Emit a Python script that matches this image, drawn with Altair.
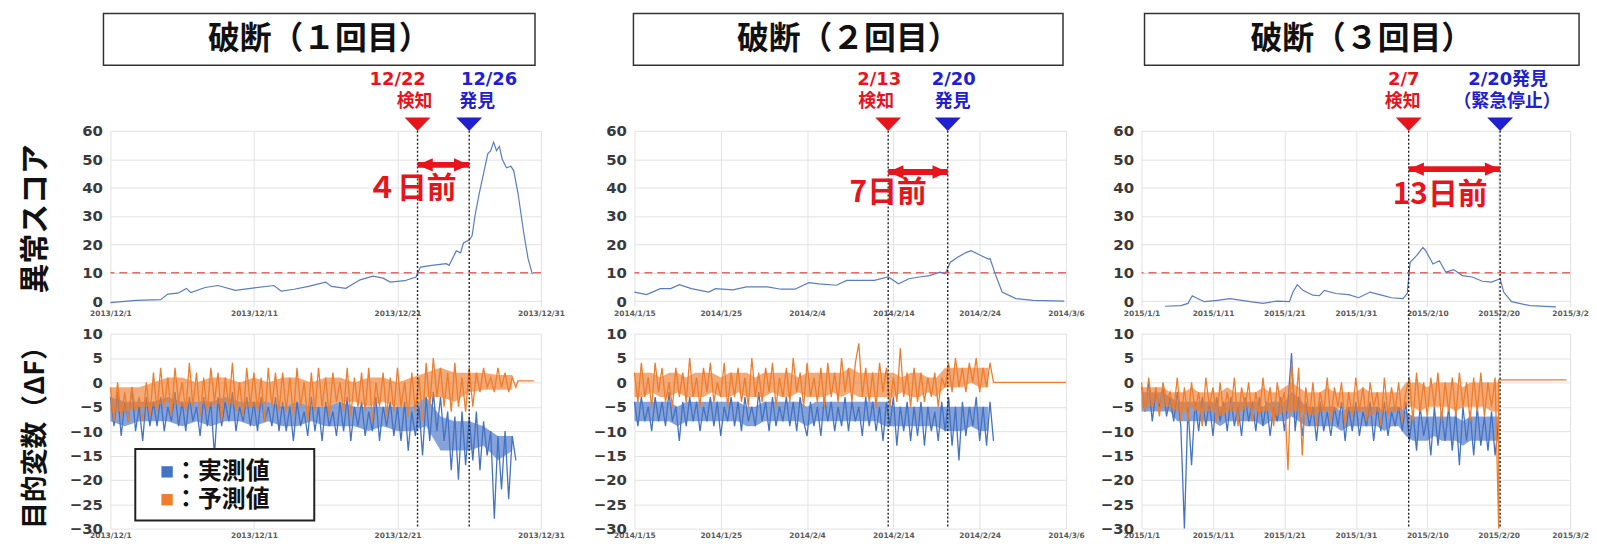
import altair as alt
import pandas as pd

# ---------------- styling ----------------
RED = "#e8141c"
BLUE = "#2020d0"
ACT_COLOR = "#4472c4"
PRED_COLOR = "#ee7d2e"
SCORE_COLOR = "#5a7cc0"
THRESH_COLOR = "#e36a6a"
JP = "Noto Sans CJK JP"
LAT = "DejaVu Sans"
MIX = "DejaVu Sans, Noto Sans CJK JP"
BAND_OPACITY = 0.65

H1, H2, GAP = 177, 196, 27
PANEL_WIDTHS = [433, 434, 431]
SPACERS = [94, 76]
BOX_X = [(-7, 427), (-1, 431), (3, 440)]
LABEL_DX1 = [[-20, 20], [-9, 6], [-5, 8]]
LABEL_DX2 = [[-3, 8], [-12, 5], [-6, 7]]

SCORE_DOMAIN = [-2, 60]
SCORE_TICKS = [0, 10, 20, 30, 40, 50, 60]
DF_DOMAIN = [-30, 10]
DF_TICKS = [-30, -25, -20, -15, -10, -5, 0, 5, 10]
THRESHOLD = [10]

Y_TITLE_TOP = "異常スコア"
Y_TITLE_BOTTOM = "目的変数（ΔF）"
LEGEND_LABELS = ["：実測値", "：予測値"]
EVENT_COLORS = [RED, BLUE]

# ---------------- panel 1 ----------------
P1_TITLE = "破断（１回目）"
P1_XMAX = 30
P1_TICKS = [0, 10, 20, 30]
P1_TICK_LABELS = ["2013/12/1", "2013/12/11", "2013/12/21", "2013/12/31"]
P1_EVENT_DAY = [21.4, 25.0]
P1_EVENT_LINE1 = ["12/22", "12/26"]
P1_EVENT_LINE2 = ["検知", "発見"]
P1_GAP_TEXT = "４日前"
P1_GAP_TEXT_DAY = 21.0
P1_GAP_TEXT_Y = 39.5
P1_ARROW_Y = 48
P1_SCORE_DAY = [0, 1.8, 3.5, 4, 4.7, 5.3, 5.6, 6.6, 7.5, 8.7, 9.9, 11.4, 11.9, 12.8, 13.8, 15, 15.4,
                16.4, 17.4, 18.3, 19, 19.5, 20.5, 21.3, 21.6, 22.4, 23.4, 23.6, 24.1, 24.4, 24.6, 25,
                25.2, 25.4, 25.7, 26, 26.3, 26.5, 26.7, 26.9, 27.1, 27.3, 27.6, 27.9, 28.1, 28.4, 28.8,
                29.1, 29.4]
P1_SCORE = [-0.5, 0.3, 0.5, 2.5, 2.8, 4.5, 3, 4.8, 5.5, 3.8, 4.6, 5.5, 3.5, 4.2, 5.2, 6.7, 5.2,
            4.5, 7.5, 8.8, 8.1, 6.7, 7.2, 8.5, 12, 12.6, 13.2, 12.6, 17.7, 17, 20.5, 21.5,
            23, 30, 38, 45, 52, 53, 56, 53, 54.5, 50, 47, 47.5, 46, 38, 24, 15, 9.5]
P1_STEP = 0.25
P1_ACT = [-3, -9, -2, -11, -4, -8, -1, -10, -5, -12, -3, -9,
          -4, -9, -3, -10, -5, -8, -2, -9, -4, -10, -3, -8, -5, -11, -3, -9,
          -4, -15,
          -3, -9, -4, -8, -2, -10, -5, -8, -3, -9, -4, -10, -3, -8, -5, -9, -3, -10,
          -4, -10, -5, -12, -4, -9, -6, -11, -3, -10, -5, -12, -4, -9, -6, -11,
          -4, -10, -3, -12, -5, -9, -4, -11, -6, -10, -3, -12, -5, -9, -4, -11,
          -5, -12, -4, -14, -6, -11, -5, -15, -3, -12,
          -2, -10, -3, -12,
          -6, -18, -7, -20, -6, -17,
          -7, -16, -6, -18, -8, -15,
          -10, -28, -11, -22,
          -10, -24, -11, -16]
P1_PRED = [-1, -8, 0, -7, -2, -8, -1, -6, -3, -8, 0, -7,
           2, -6, 3, -5, 1, -7, 3, -4, 0, -6, 4, -5, 2, -7, 1, -6, 3, -4, 2, -8, 1, -5, 4, -6,
           0, -7, 3, -5, 2, -6, 1, -8, 3, -5, 2, -6,
           2, -6, 1, -7, 3, -5, 0, -8, 2, -6, 3, -5, 1, -7, 2, -4, 0, -6, 3, -7,
           1, -5, 2, -6, 3, -8, 0, -5, 2, -7, 1, -6, 3, -5, 0, -7, 2, -6, 1, -8,
           4, -5, 5, -3, 3, -5,
           2, -6, 4, -5, 1, -6, 3, -5,
           2, -2, 3, -1, 1, -2, 3, -1, 2, -2, 1, -1]
P1_FLAT_DAY = [28.4, 29.5]
P1_FLAT = [0.3, 0.3]
# dense core of the noise, one reading per day
P1_ACT_LO = [-8, -9, -8, -8, -8, -9, -8, -9, -8, -8, -9, -8, -9, -9, -8, -9, -9, -9, -10, -9,
             -10, -10, -9, -14, -14, -14, -13, -16, -14]
P1_ACT_HI = [-3, -4, -4, -4, -3, -4, -4, -4, -3, -4, -4, -4, -5, -4, -5, -5, -4, -5, -5, -5,
             -5, -5, -3, -7, -8, -8, -9, -11, -11]
P1_PRED_LO = [-6, -6, -5, -5, -4, -5, -4, -5, -4, -5, -5, -4, -5, -4, -5, -5, -4, -4, -5, -4,
              -5, -5, -3, -3, -4, -2, -1.5, -1.5, -1.5]
P1_PRED_HI = [-1, -1, -1, 0, 1, 1, 0, 1, 1, 0, 1, 0, 1, 1, 0, 1, 1, 0, 1, 1,
              0, 1, 2, 3, 2, 2, 2, 1.5, 1.5]

# ---------------- panel 2 ----------------
P2_TITLE = "破断（２回目）"
P2_XMAX = 50
P2_TICKS = [0, 10, 20, 30, 40, 50]
P2_TICK_LABELS = ["2014/1/15", "2014/1/25", "2014/2/4", "2014/2/14", "2014/2/24", "2014/3/6"]
P2_EVENT_DAY = [29.4, 36.3]
P2_EVENT_LINE1 = ["2/13", "2/20"]
P2_EVENT_LINE2 = ["検知", "発見"]
P2_GAP_TEXT = "7日前"
P2_GAP_TEXT_DAY = 29.4
P2_GAP_TEXT_Y = 38
P2_ARROW_Y = 45.5
P2_SCORE_DAY = [0, 1.4, 3, 4.2, 5.2, 6.6, 8.6, 9.4, 11.4, 13, 15.4, 17, 18.6, 20.2, 21.4, 23.4, 24.6,
                26.6, 27.8, 29.4, 30.6, 31.8, 33, 34.2, 35.4, 36, 36.6, 37.4, 38.4, 39, 40.2, 41,
                41.2, 41.8, 42.6, 44.2, 46.2, 49.8]
P2_SCORE = [3.2, 2.3, 4.4, 4.4, 5.8, 4.4, 3.2, 4.4, 4, 5, 5, 4.2, 4.2, 6.5, 6.1, 5.6, 7.3,
            7.3, 7.3, 8.5, 6.1, 7.9, 8.5, 9, 10.2, 9.6, 13.7, 15.4, 17.1, 17.8, 16, 14.8,
            15, 9.6, 3.2, 0.9, 0.3, 0]
P2_STEP = 0.4
P2_ACT = [-4, -9, -3, -8, -5, -10, -3, -8, -4, -9, -2, -8, -5,
          -12, -4,
          -9, -3, -8, -4, -10, -5, -8, -3, -9, -4, -11, -5, -8, -3, -9, -4, -10, -3,
          -8, -5, -9, -2, -8, -4, -10, -3, -9, -5, -8, -3, -9, -4, -10, -3, -8,
          -11, -4, -9, -5, -11, -3, -8, -4, -10, -5, -9, -3, -10, -4, -8, -5, -11, -3, -9, -4, -10, -5,
          -12, -4, -9, -3, -13, -5, -10, -4, -12, -5,
          -11, -4, -13, -5, -10, -6, -12, -4,
          -10, -3, -13, -5, -16, -4, -11, -5, -9, -3, -12, -5, -13, -4, -12]
P2_PRED = [2, -4, 4, -3, 1, -5, 4, -2, 3, -4, 0, -5, 3,
           -3, 2, -4, 5, -3, 1, -5, 3, -2, 4, -4, 0, -3,
           4, -5, 2, -3, 3, -4, 1, -5, 5, -3, 2, -4, 3,
           -2, 4, -5, 1, -3, 3, -4, 5, -2, 2, -5, 4, -3,
           1, -4, 3, -5, 4, -3, 2, -4, 5, -2, 3, -4, 4,
           8,
           -3, 3, -4, 2, -5, 4, -2,
           3, -5, 1, -4, 7, -3, 2, -5, 3, -4,
           2, -4, 1, -3, 2, -5, 1,
           -1, 4, -2, 5, -1, 3, -2, 4, 0, 5, -2, 3, -1, 4, 0]
P2_FLAT_DAY = [41.8, 50]
P2_FLAT = [0, 0]
P2_ACT_LO = [-8, -8, -8, -8, -8, -9, -8, -8, -8, -8, -8, -8, -8, -9, -9, -8, -8, -8, -8, -8,
             -9, -8, -8, -8, -8, -8, -8, -8, -8, -9, -9, -9, -9, -9, -9, -9, -10, -10, -10, -9,
             -10, -10]
P2_ACT_HI = [-4, -4, -4, -4, -4, -5, -4, -4, -4, -4, -4, -4, -4, -5, -5, -4, -4, -4, -4, -4,
             -5, -4, -4, -4, -4, -4, -4, -4, -4, -4, -5, -5, -5, -5, -5, -5, -5, -5, -5, -5,
             -5, -5]
P2_PRED_LO = [-3, -3, -2, -3, -3, -2, -3, -3, -3, -2, -3, -3, -2, -3, -3, -3, -2, -3, -3, -2,
              -3, -3, -3, -2, -3, -2, -3, -3, -3, -3, -3, -2, -3, -3, -2, -3, -1, -1, -1, 0,
              -1, -1]
P2_PRED_HI = [2, 2, 2, 1, 2, 2, 1, 2, 2, 2, 1, 2, 2, 2, 1, 2, 2, 2, 2, 1,
              2, 2, 2, 2, 2, 3, 2, 2, 2, 2, 2, 1, 2, 2, 1, 1, 3, 3, 3, 3,
              3, 3]

# ---------------- panel 3 ----------------
P3_TITLE = "破断（３回目）"
P3_XMAX = 60
P3_TICKS = [0, 10, 20, 30, 40, 50, 60]
P3_TICK_LABELS = ["2015/1/1", "2015/1/11", "2015/1/21", "2015/1/31", "2015/2/10", "2015/2/20", "2015/3/2"]
P3_EVENT_DAY = [37.4, 50.2]
P3_EVENT_LINE1 = ["2/7", "2/20発見"]
P3_EVENT_LINE2 = ["検知", "（緊急停止）"]
P3_GAP_TEXT = "13日前"
P3_GAP_TEXT_DAY = 41.8
P3_GAP_TEXT_Y = 37.5
P3_ARROW_Y = 46.5
P3_SCORE_DAY = [3.3, 5.5, 6.5, 7.1, 7.6, 8.8, 10.6, 12.4, 14.7, 17, 18.9, 20.7, 21.2, 21.8, 22.6, 24,
                24.9, 25.6, 27.2, 29, 30.4, 32, 33.6, 35, 36.6, 37.2, 37.6, 38.5, 39.4, 39.8, 40.8,
                41.7, 42.6, 43.7, 44.9, 46.3, 47.7, 49, 50.2, 50.7, 51.8, 54.4, 58]
P3_SCORE = [-1.8, -1.6, -0.8, 1.9, 1.2, -0.2, 0.3, 0.9, 0, -0.8, 0, -0.2, 3.2, 5.8, 3.8, 2.1,
            1.9, 3.8, 2.7, 2.3, 1.2, 3.2, 2.1, 1.2, 0.9, 2.7, 13.7, 16, 18.9, 17.7, 13.1,
            14.2, 10.2, 11.1, 9, 8.5, 7, 6.7, 7.9, 3.2, -0.2, -1.6, -2]
P3_STEP = 0.5
P3_ACT = [-1, -6, 0, -8, -2, -5, -1, -7, -3, -8, -2, -9,
          -30, -5, -17, -4,
          -10, -3, -9, -4, -11, -3, -8, -4, -10, -3, -9, -5, -11, -3, -8, -4, -10, -3, -9, -4,
          -11, -5, -8, -3, -10,
          -4, 6, -10, -3,
          -11, -4, -9, -5, -12, -4, -10, -6, -11, -5, -9, -4, -12, -5, -10, -4, -11, -6, -9, -4,
          -12, -5, -10, -4, -11, -6, -9, -5, -10, -4,
          -12, -6, -14, -5, -11, -7, -15, -5, -13, -6, -12, -5, -14, -6, -17, -5, -12, -6, -15, -5,
          -13, -7, -14, -6, -15, -8]
P3_PRED = [0, -6, 1, -5, -1, -7, 0, -4, -2, -6, 1, -8,
           -1, -8, 0, -6, -2, -9, 1, -5, -1, -8, 0, -7, -2, -6, 1, -9, -1, -5, 0, -8, -2, -7, 1, -6,
           -1, -9, 0, -5, -2,
           -18, 4, -6, 3, -15,
           -1, -7, 0, -9, -2, -6, 1, -8, -1, -5, 0, -9, -2, -7, 1, -6, -1, -8, 0, -5, -2, -9, 1, -7,
           -1, -6, 0, -8, -2,
           1, -8, 2, -6, 0, -7, 1, -5, 2, -8, 0, -6, 1, -7, 2, -5, 0, -8, 1, -6, 2, -7, 0, -5, 1, -30]
P3_FLAT_DAY = [50, 59.5]
P3_FLAT = [0.5, 0.5]
P3_ACT_LO = [-6, -6, -6, -6, -6, -8, -8, -8, -8, -8, -8, -9, -8, -8, -8, -8, -8, -9, -8, -8,
             -8, -7, -8, -9, -9, -9, -9, -9, -10, -9, -9, -9, -9, -9, -10, -9, -9, -11, -12, -12,
             -12, -11, -12, -12, -12, -13, -12, -12, -12, -12, -12]
P3_ACT_HI = [-2, -2, -2, -2, -3, -4, -4, -4, -4, -4, -4, -5, -4, -4, -4, -4, -4, -5, -4, -4,
             -4, -2, -3, -5, -5, -5, -5, -5, -6, -5, -5, -5, -5, -5, -6, -5, -5, -6, -7, -7,
             -7, -7, -7, -7, -7, -8, -7, -7, -7, -7, -7]
P3_PRED_LO = [-5, -5, -4, -5, -5, -6, -6, -5, -6, -6, -6, -7, -6, -6, -6, -5, -6, -6, -6, -7,
              -6, -6, -6, -6, -7, -6, -6, -6, -5, -6, -6, -6, -7, -6, -6, -6, -6, -5, -5, -6,
              -5, -5, -5, -5, -6, -5, -5, -5, -5, -6, -6]
P3_PRED_HI = [-1, -1, -1, -1, -2, -2, -2, -1, -2, -2, -2, -2, -1, -2, -2, -2, -2, -1, -2, -2,
              -1, 0, -1, -2, -2, -2, -1, -2, -2, -2, -2, -1, -2, -2, -2, -2, -2, 0, 0, 0,
              -1, 0, 0, 0, 0, -1, 0, 0, 0, 0, 0]

PANELS = [
    dict(title=P1_TITLE, xmax=P1_XMAX, ticks=P1_TICKS, labels=P1_TICK_LABELS, ev_day=P1_EVENT_DAY,
         ev1=P1_EVENT_LINE1, ev2=P1_EVENT_LINE2, gtext=P1_GAP_TEXT, gday=P1_GAP_TEXT_DAY, gy=P1_GAP_TEXT_Y,
         ay=P1_ARROW_Y, sday=P1_SCORE_DAY, score=P1_SCORE, step=P1_STEP, act=P1_ACT, pred=P1_PRED,
         fday=P1_FLAT_DAY, flat=P1_FLAT, alo=P1_ACT_LO, ahi=P1_ACT_HI, plo=P1_PRED_LO, phi=P1_PRED_HI),
    dict(title=P2_TITLE, xmax=P2_XMAX, ticks=P2_TICKS, labels=P2_TICK_LABELS, ev_day=P2_EVENT_DAY,
         ev1=P2_EVENT_LINE1, ev2=P2_EVENT_LINE2, gtext=P2_GAP_TEXT, gday=P2_GAP_TEXT_DAY, gy=P2_GAP_TEXT_Y,
         ay=P2_ARROW_Y, sday=P2_SCORE_DAY, score=P2_SCORE, step=P2_STEP, act=P2_ACT, pred=P2_PRED,
         fday=P2_FLAT_DAY, flat=P2_FLAT, alo=P2_ACT_LO, ahi=P2_ACT_HI, plo=P2_PRED_LO, phi=P2_PRED_HI),
    dict(title=P3_TITLE, xmax=P3_XMAX, ticks=P3_TICKS, labels=P3_TICK_LABELS, ev_day=P3_EVENT_DAY,
         ev1=P3_EVENT_LINE1, ev2=P3_EVENT_LINE2, gtext=P3_GAP_TEXT, gday=P3_GAP_TEXT_DAY, gy=P3_GAP_TEXT_Y,
         ay=P3_ARROW_Y, sday=P3_SCORE_DAY, score=P3_SCORE, step=P3_STEP, act=P3_ACT, pred=P3_PRED,
         fday=P3_FLAT_DAY, flat=P3_FLAT, alo=P3_ACT_LO, ahi=P3_ACT_HI, plo=P3_PRED_LO, phi=P3_PRED_HI),
]

ONE = pd.DataFrame({"k": [0]})
TRI_DOWN = "M-1,-0.5L1,-0.5L0,0.55Z"
HEAD_LEFT = "M-1,0L0.7,-0.75L0.7,0.75Z"
HEAD_RIGHT = "M1,0L-0.7,-0.75L-0.7,0.75Z"


def band_df(lo, hi):
    n = min(len(lo), len(hi))
    return pd.DataFrame({"day": list(range(n)), "lo": lo[:n], "hi": hi[:n]})


def make_panel(i, p):
    W = PANEL_WIDTHS[i]
    xs = alt.Scale(domain=[0, p["xmax"]], nice=False, zero=False)
    expr = ("[" + ",".join("'" + s + "'" for s in p["labels"]) + "][indexof(["
            + ",".join(str(t) for t in p["ticks"]) + "], datum.value)]")
    xax = alt.Axis(values=p["ticks"], labelExpr=expr, title=None, grid=True, gridColor="#e2e2e2",
                   ticks=False, domain=False, labelFont=LAT, labelFontSize=7.5, labelFontWeight="bold",
                   labelColor="#5a5a5a", labelPadding=3, labelFlush=False, labelOverlap=False)

    def X(f):
        return alt.X(f, type="quantitative", scale=xs, axis=xax)

    yst = alt.Scale(domain=SCORE_DOMAIN, nice=False, zero=False)
    yat = alt.Axis(values=SCORE_TICKS, title=None, grid=True, gridColor="#e2e2e2", ticks=False,
                   domain=False, labelFont=LAT, labelFontSize=15, labelFontWeight="bold",
                   labelColor="#3a3a3a", labelPadding=8)

    def YT(f):
        return alt.Y(f, type="quantitative", scale=yst, axis=yat)

    ysb = alt.Scale(domain=DF_DOMAIN, nice=False, zero=False)
    yab = alt.Axis(values=DF_TICKS, title=None, grid=True, gridColor="#e2e2e2", ticks=False,
                   domain=False, labelFont=LAT, labelFontSize=15, labelFontWeight="bold",
                   labelColor="#3a3a3a", labelPadding=8)

    def YB(f):
        return alt.Y(f, type="quantitative", scale=ysb, axis=yab)

    df_score = pd.DataFrame({"day": p["sday"], "v": p["score"]})
    df_thr = pd.DataFrame({"t": THRESHOLD})
    df_ev = pd.DataFrame({"day": p["ev_day"], "c": EVENT_COLORS, "l1": p["ev1"], "l2": p["ev2"]})
    df_arrow = pd.DataFrame({"x1": [p["ev_day"][0]], "x2": [p["ev_day"][1]], "y": [p["ay"]]})
    df_gt = pd.DataFrame({"day": [p["gday"]], "y": [p["gy"]], "text": [p["gtext"]]})

    act_day = [k * p["step"] for k in range(len(p["act"]))]
    pred_day = [k * p["step"] for k in range(len(p["pred"]))] + list(p["fday"])
    pred_v = list(p["pred"]) + list(p["flat"])
    df_act = pd.DataFrame({"day": act_day, "v": p["act"], "o": list(range(len(act_day)))})
    df_pred = pd.DataFrame({"day": pred_day, "v": pred_v, "o": list(range(len(pred_day)))})
    df_aband = band_df(p["alo"], p["ahi"])
    df_pband = band_df(p["plo"], p["phi"])

    bx0, bx1 = BOX_X[i]

    top_layers = [
        alt.Chart(df_thr).mark_rule(color=THRESH_COLOR, strokeDash=[8, 5], strokeWidth=1.5).encode(y=YT("t")),
        alt.Chart(df_score).mark_line(color=SCORE_COLOR, strokeWidth=1.2).encode(x=X("day"), y=YT("v")),
        alt.Chart(df_ev).mark_rule(color="#222222", strokeDash=[2, 2], strokeWidth=1.4).encode(
            x=X("day"), y=alt.value(0), y2=alt.value(H1 + GAP)),
        alt.Chart(df_ev).mark_point(shape=TRI_DOWN, size=676, filled=True, opacity=1, strokeWidth=0).encode(
            x=X("day"), y=alt.value(-7), color=alt.Color("c:N", scale=None)),
        alt.Chart(df_arrow).mark_rule(color=RED, strokeWidth=6).encode(x=X("x1"), x2="x2", y=YT("y")),
        alt.Chart(df_arrow).mark_point(shape=HEAD_LEFT, size=324, filled=True, opacity=1, color=RED,
                                       strokeWidth=0, xOffset=9).encode(x=X("x1"), y=YT("y")),
        alt.Chart(df_arrow).mark_point(shape=HEAD_RIGHT, size=324, filled=True, opacity=1, color=RED,
                                       strokeWidth=0, xOffset=-9).encode(x=X("x2"), y=YT("y")),
        alt.Chart(df_gt).mark_text(font=JP, fontSize=30, fontWeight="bold", color=RED).encode(
            x=X("day"), y=YT("y"), text="text:N"),
        alt.Chart(ONE).mark_rect(fill="white", stroke="#333333", strokeWidth=1.5).encode(
            x=alt.value(bx0), x2=alt.value(bx1), y=alt.value(-118), y2=alt.value(-66)),
        alt.Chart(ONE).mark_text(font=JP, fontSize=32, fontWeight="bold", color="#111111").encode(
            x=alt.value((bx0 + bx1) / 2), y=alt.value(-92), text=alt.value(p["title"])),
    ]
    for k in range(len(p["ev_day"])):
        row = df_ev.iloc[[k]]
        top_layers.append(alt.Chart(row).mark_text(font=MIX, fontSize=18, fontWeight="bold",
                                                    dx=LABEL_DX1[i][k]).encode(
            x=X("day"), y=alt.value(-51), text="l1:N", color=alt.Color("c:N", scale=None)))
        top_layers.append(alt.Chart(row).mark_text(font=JP, fontSize=18, fontWeight="bold",
                                                    dx=LABEL_DX2[i][k]).encode(
            x=X("day"), y=alt.value(-29), text="l2:N", color=alt.Color("c:N", scale=None)))
    if i == 0:
        top_layers.append(
            alt.Chart(ONE).mark_text(font=JP, fontSize=30, fontWeight="bold", color="#111111", angle=270).encode(
                x=alt.value(-75), y=alt.value(H1 / 2), text=alt.value(Y_TITLE_TOP)))
    top = alt.layer(*top_layers).properties(width=W, height=H1)

    bot_layers = [
        alt.Chart(df_aband).mark_area(color=ACT_COLOR, opacity=BAND_OPACITY).encode(
            x=X("day"), y=YB("lo"), y2="hi"),
        alt.Chart(df_act).mark_line(color=ACT_COLOR, strokeWidth=1.3).encode(x=X("day"), y=YB("v"), order="o:Q"),
        alt.Chart(df_pband).mark_area(color=PRED_COLOR, opacity=BAND_OPACITY).encode(
            x=X("day"), y=YB("lo"), y2="hi"),
        alt.Chart(df_pred).mark_line(color=PRED_COLOR, strokeWidth=1.3).encode(x=X("day"), y=YB("v"), order="o:Q"),
        alt.Chart(df_ev).mark_rule(color="#222222", strokeDash=[2, 2], strokeWidth=1.4).encode(
            x=X("day"), y=alt.value(0), y2=alt.value(H2)),
    ]
    if i == 0:
        bot_layers.append(
            alt.Chart(ONE).mark_text(font=JP, fontSize=27, fontWeight="bold", color="#111111", angle=270).encode(
                x=alt.value(-75), y=alt.value(H2 / 2), text=alt.value(Y_TITLE_BOTTOM)))
        bot_layers.append(
            alt.Chart(ONE).mark_rect(fill="white", stroke="#222222", strokeWidth=2).encode(
                x=alt.value(25), x2=alt.value(205), y=alt.value(116), y2=alt.value(188)))
        for j, (lab, col) in enumerate(zip(LEGEND_LABELS, [ACT_COLOR, PRED_COLOR])):
            yy = 139 + 28 * j
            bot_layers.append(alt.Chart(ONE).mark_square(size=130, opacity=1, color=col).encode(
                x=alt.value(57), y=alt.value(yy)))
            bot_layers.append(alt.Chart(ONE).mark_text(font=JP, fontSize=24, fontWeight="bold",
                                                       color="#111111", align="left").encode(
                x=alt.value(64), y=alt.value(yy), text=alt.value(lab)))
    bottom = alt.layer(*bot_layers).properties(width=W, height=H2)

    return top, bottom


def spacer(w, h):
    return alt.Chart(ONE).mark_point(opacity=0).encode(x=alt.value(0), y=alt.value(0)).properties(width=w, height=h)


parts = [make_panel(i, p) for i, p in enumerate(PANELS)]
cells = [parts[0][0], spacer(SPACERS[0], H1), parts[1][0], spacer(SPACERS[1], H1), parts[2][0],
         parts[0][1], spacer(SPACERS[0], H2), parts[1][1], spacer(SPACERS[1], H2), parts[2][1]]
chart = alt.concat(*cells, columns=5, spacing={"row": GAP, "column": 0}, bounds="flush").properties(
    padding={"left": 13, "top": 3, "right": 0, "bottom": 0}, background="white"
).configure_view(stroke=None)

chart.save("out.html", embed_options={"renderer": "svg", "actions": False})
